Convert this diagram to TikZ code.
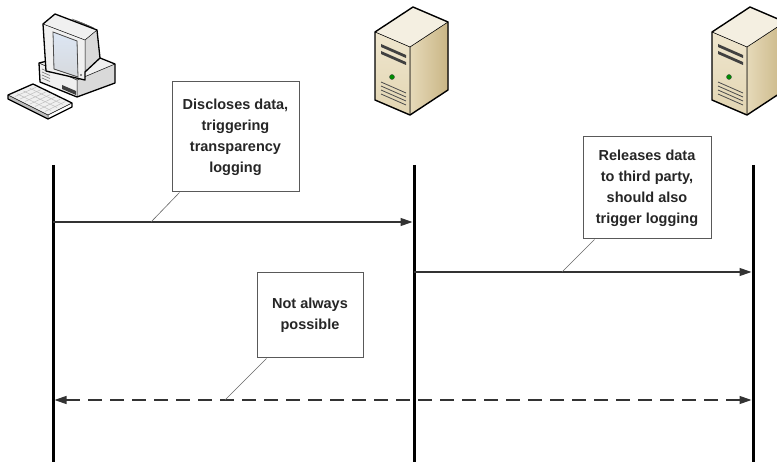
\documentclass[tikz,border=0pt]{standalone}
\usepackage{fontspec}
\setmainfont{Liberation Sans}
\usetikzlibrary{arrows.meta, calc, positioning}

\definecolor{srvTop}{HTML}{F4EFE1}
\definecolor{srvFront}{HTML}{EFE6CE}
\definecolor{srvFrontB}{HTML}{E2D5B2}
\definecolor{srvSide}{HTML}{E6DAB9}
\definecolor{srvDark}{HTML}{C9B585}
\definecolor{pcLight}{HTML}{F0F0F0}
\definecolor{pcMid}{HTML}{D9D9D9}
\definecolor{pcDark}{HTML}{BDBDBD}
\definecolor{screenBlue}{HTML}{DCE6F4}

\begin{document}
\begin{tikzpicture}[x=1pt, y=-1pt,
        note/.style={draw=black!65, line width=1pt, fill=white, align=center, inner sep=0pt,
            font=\bfseries\fontsize{14.5}{21}\selectfont, text=black!85},
        lifeline/.style={line width=3pt, black},
        msg/.style={-{Triangle[length=12pt,width=8pt]}, line width=1.2pt, black!80},
        callout/.style={line width=0.6pt, black!60},
        srv/.pic={
            \fill[left color=srvSide, right color=srvDark] (-4,47) -- (34,22) -- (34,90) -- (-4,115) -- cycle;
            \fill[top color=srvFront, bottom color=srvFrontB] (-39,32) -- (-4,47) -- (-4,115) -- (-39,100) -- cycle;
            \fill[srvTop] (-39,32) -- (-4,47) -- (34,22) -- (-1,7) -- cycle;
            % drive bays, led, vents
            \fill[black!75] (-33,44) -- (-8,55) -- (-8,58) -- (-33,47) -- cycle;
            \fill[black!75] (-33,51) -- (-8,62) -- (-8,65) -- (-33,54) -- cycle;
            \fill[green!55!black, draw=black!70, line width=0.4pt] (-22,77) circle (2.5);
            \foreach \k in {0,...,3}
                \draw[black!70, line width=0.8pt] (-33,82+4*\k) -- (-8,93+4*\k);
            \draw[line width=0.6pt] (-39,32) -- (-4,47) -- (34,22) (-4,47) -- (-4,115);
            \draw[line width=1.4pt, line join=round] (-39,32) -- (-1,7) -- (34,22) -- (34,90) -- (-4,115) -- (-39,100) -- cycle;
        }
    ]
    \useasboundingbox (0,0) rectangle (777,462);

    % workstation
    \fill[pcMid] (77,80) -- (115,64) -- (115,83) -- (77,97) -- cycle;
    \fill[pcLight] (39,63) -- (77,80) -- (77,97) -- (40,82) -- cycle;
    \fill[pcLight] (39,63) -- (77,80) -- (115,64) -- (85,52) -- cycle;
    \foreach \k in {0,...,3}
        \draw[black!55, line width=0.6pt] (42,69+3*\k) -- (50,72.5+3*\k);
    \fill[black!75] (62,85) -- (76,91) -- (76,95) -- (62,89) -- cycle;
    \draw[line width=1.3pt, line join=round] (39,63) -- (85,52) -- (115,64) -- (115,83) -- (77,97) -- (40,82) -- cycle;
    \draw[line width=0.5pt] (39,63) -- (77,80) -- (115,64) (77,80) -- (77,97);
    % monitor
    \fill[pcMid] (85,40) -- (97,30) -- (100,58) -- (85,72) -- cycle;
    \fill[pcLight] (43,24) -- (85,40) -- (97,30) -- (55,14) -- cycle;
    \foreach \k in {0,...,4}
        \draw[black!60, line width=0.6pt] (72+2.5*\k,19+1*\k) -- (84+2.5*\k,24+1*\k);
    \fill[pcLight] (43,24) -- (85,40) -- (85,80) -- (46,71) -- cycle;
    \fill[top color=screenBlue, bottom color=screenBlue!70!black!40, draw=black!70, line width=0.8pt]
        (53,32) -- (77,41) -- (78,77) -- (54,69) -- cycle;
    \fill[black!60] (81,75) circle (1.2);
    \draw[line width=1.3pt, line join=round] (43,24) -- (55,14) -- (97,30) -- (100,58) -- (85,72) -- (85,80) -- (46,71) -- cycle;
    \draw[line width=0.5pt] (43,24) -- (85,40) -- (97,30) (85,40) -- (85,72);
    % keyboard
    \fill[pcDark] (8,95) -- (48,115) -- (48,119) -- (8,99) -- cycle;
    \fill[pcLight] (8,95) -- (33,84) -- (72,103) -- (48,115) -- cycle;
    \foreach \k in {1,...,3}
        \draw[black!25, line width=0.5pt] ($(8,95)!\k/4!(33,84)+(3,1.5)$) -- ($(48,115)!\k/4!(72,103)+(-3,-1.5)$);
    \foreach \k in {1,...,7}
        \draw[black!25, line width=0.5pt] ($(8,95)!\k/8!(48,115)+(2,-1)$) -- ($(33,84)!\k/8!(72,103)+(-2,1)$);
    \draw[line width=1.3pt, line join=round] (8,95) -- (33,84) -- (72,103) -- (72,107) -- (48,119) -- (8,99) -- cycle;
    \draw[line width=0.5pt] (8,95) -- (48,115) -- (72,103) (48,115) -- (48,119);

    % servers
    \pic (srvA) at (414,0) {srv};
    \pic (srvB) at (751,0) {srv};

    % lifelines
    \coordinate (userTop) at (53,165);
    \coordinate (userBot) at (53,462);
    \coordinate (hostTop) at (414,165);
    \coordinate (hostBot) at (414,462);
    \coordinate (thirdTop) at (753,165);
    \coordinate (thirdBot) at (753,462);
    \draw[lifeline] (userTop) -- (userBot);
    \draw[lifeline] (hostTop) -- (hostBot);
    \draw[lifeline] (thirdTop) -- (thirdBot);

    % messages
    \coordinate (discS) at (53,222);
    \coordinate (discE) at (412.5,222);
    \coordinate (discC) at (151,222);
    \coordinate (relS) at (414,272);
    \coordinate (relE) at (751.5,272);
    \coordinate (relC) at (562,272);
    \coordinate (backS) at (751.5,400);
    \coordinate (backE) at (54.5,400);
    \coordinate (backC) at (225,400);
    \draw[msg] (discS) -- (discE);
    \draw[msg] (relS) -- (relE);
    \draw[msg, {Triangle[length=12pt,width=8pt]}-{Triangle[length=12pt,width=8pt]}, dash pattern=on 14pt off 8pt] (backE) -- (backS);

    % notes
    \node[note, minimum width=127pt, minimum height=110pt] (disclose) at (235.5,137)
        {Discloses data,\\triggering\\transparency\\logging};
    \node[note, minimum width=128pt, minimum height=102pt] (release) at (647,188)
        {Releases data\\to third party,\\should also\\trigger logging};
    \node[note, minimum width=106pt, minimum height=85pt] (notalways) at (310,315.5)
        {Not always\\possible};

    \draw[callout] ([xshift=8pt]disclose.south west) -- (discC);
    \draw[callout] ([xshift=12pt]release.south west) -- (relC);
    \draw[callout] ([xshift=10pt]notalways.south west) -- (backC);
\end{tikzpicture}
\end{document}
